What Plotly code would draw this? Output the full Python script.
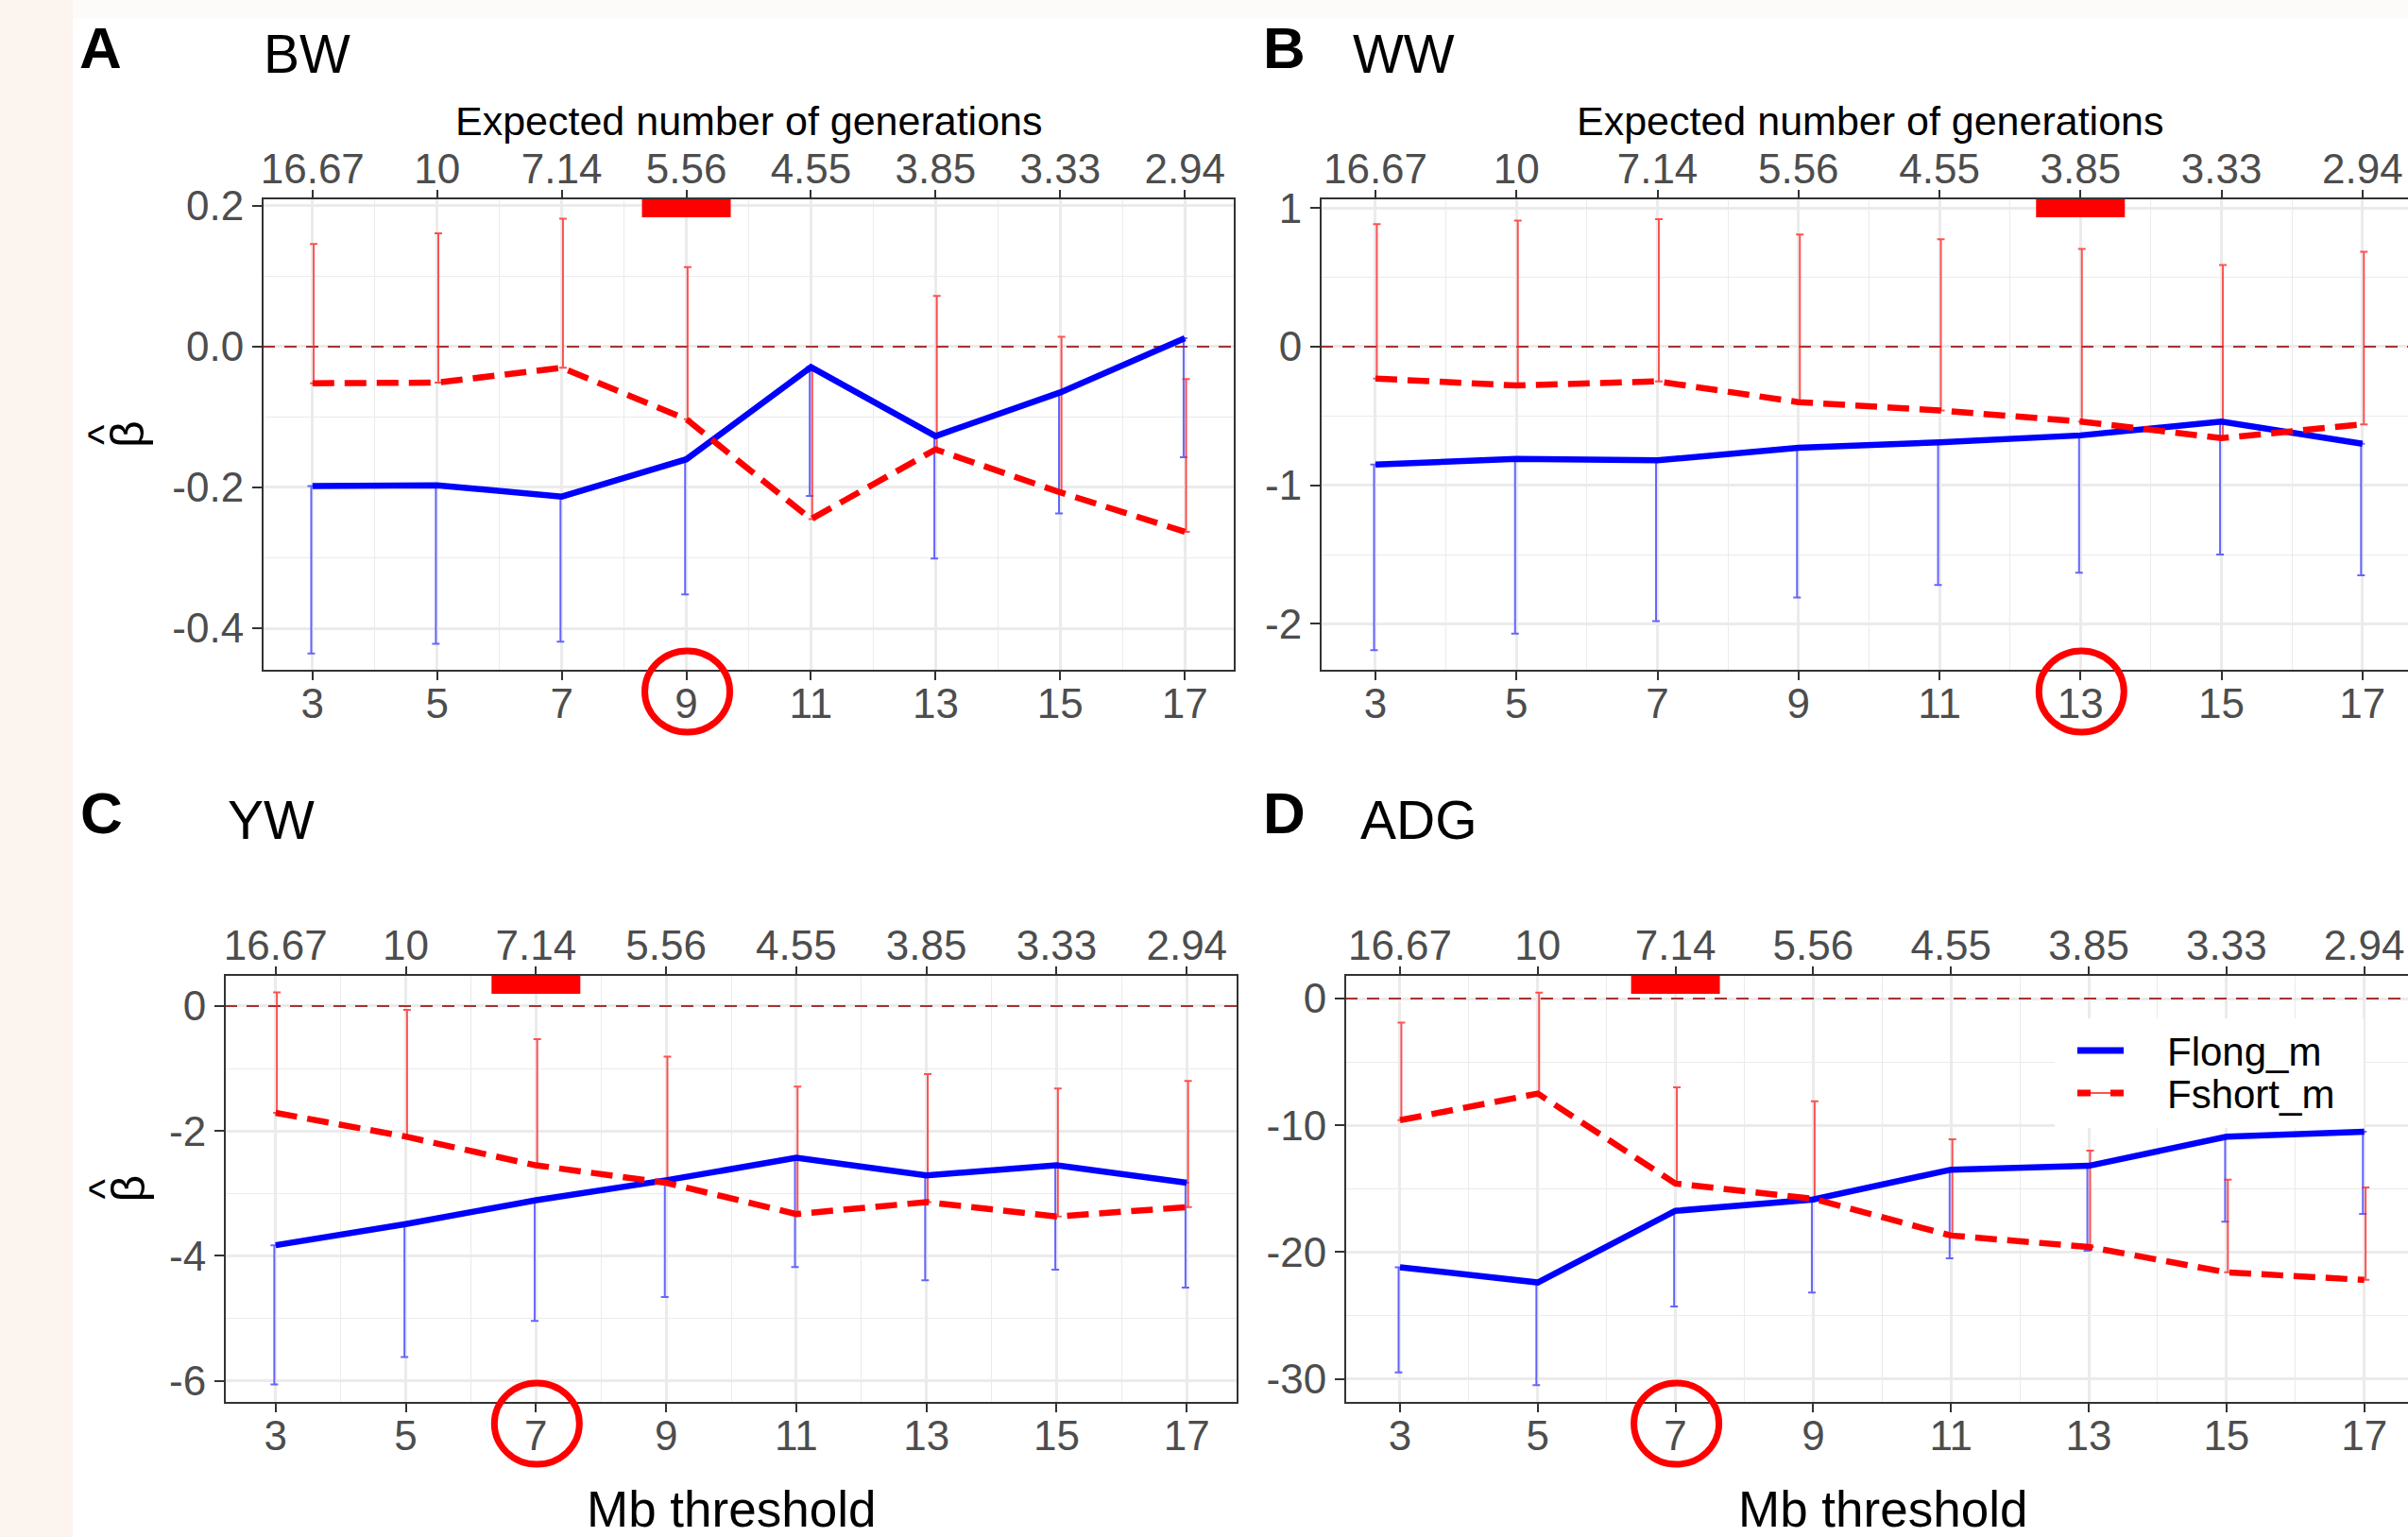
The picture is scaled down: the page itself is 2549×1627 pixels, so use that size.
import plotly.graph_objects as go

W, H = 2549, 1627
FONT = "Liberation Sans, Arial, Helvetica, sans-serif"
TICK = "#4d4d4d"
AXC = "#333333"
GRID = "#ebebeb"
ZERO = "#a83232"
BLUE = "#0000ff"
RED = "#ff0000"

# ---------------- data ----------------
mb_threshold = [3, 5, 7, 9, 11, 13, 15, 17]
mb_minor = [4, 6, 8, 10, 12, 14, 16]
generation_labels = ["16.67", "10", "7.14", "5.56", "4.55", "3.85", "3.33", "2.94"]

# A: BW
bw_flong = [-0.198, -0.197, -0.213, -0.160, -0.029, -0.127, -0.065, 0.012]
bw_flong_low = [-0.436, -0.422, -0.419, -0.352, -0.212, -0.301, -0.237, -0.157]
bw_fshort = [-0.052, -0.051, -0.030, -0.103, -0.245, -0.146, -0.207, -0.263]
bw_fshort_high = [0.146, 0.161, 0.182, 0.113, -0.035, 0.072, 0.014, -0.046]

# B: WW
ww_flong = [-0.85, -0.81, -0.82, -0.73, -0.69, -0.64, -0.54, -0.70]
ww_flong_low = [-2.19, -2.07, -1.98, -1.81, -1.72, -1.63, -1.50, -1.65]
ww_fshort = [-0.23, -0.28, -0.25, -0.40, -0.46, -0.54, -0.66, -0.56]
ww_fshort_high = [0.885, 0.91, 0.92, 0.81, 0.775, 0.705, 0.59, 0.685]

# C: YW
yw_flong = [-3.83, -3.49, -3.11, -2.79, -2.43, -2.71, -2.55, -2.83]
yw_flong_low = [-6.06, -5.62, -5.04, -4.66, -4.18, -4.39, -4.22, -4.51]
yw_fshort = [-1.71, -2.09, -2.55, -2.83, -3.33, -3.14, -3.37, -3.22]
yw_fshort_high = [0.22, -0.06, -0.53, -0.81, -1.29, -1.09, -1.32, -1.20]

# D: ADG
adg_flong = [-21.2, -22.4, -16.75, -15.85, -13.5, -13.2, -10.9, -10.5]
adg_flong_low = [-29.5, -30.5, -24.3, -23.2, -20.5, -19.9, -17.6, -17.0]
adg_fshort = [-9.6, -7.5, -14.6, -15.8, -18.7, -19.6, -21.6, -22.2]
adg_fshort_high = [-1.9, 0.47, -7.0, -8.1, -11.1, -12.0, -14.3, -14.9]

panels = [
    dict(letter="A", title="BW", flong=bw_flong, flong_low=bw_flong_low,
         fshort=bw_fshort, fshort_high=bw_fshort_high, highlight=9,
         yticks=[0.2, 0.0, -0.2, -0.4], yticktext=["0.2", "0.0", "-0.2", "-0.4"],
         yminor=[0.1, -0.1, -0.3],
         xpx=(278, 1307), xr=(2.2, 17.8), ypx=(210, 710), yr=(-0.4604, 0.2107),
         letter_xy=(83, 50), title_xy=(278, 57), top_title=True, bottom_title=False, ylab=True),
    dict(letter="B", title="WW", flong=ww_flong, flong_low=ww_flong_low,
         fshort=ww_fshort, fshort_high=ww_fshort_high, highlight=13,
         yticks=[1, 0, -1, -2], yticktext=["1", "0", "-1", "-2"],
         yminor=[0.5, -0.5, -1.5],
         xpx=(1398, 2562), xr=(2.223, 17.82), ypx=(210, 710), yr=(-2.338, 1.070),
         letter_xy=(1336, 50), title_xy=(1431, 57), top_title=True, bottom_title=False, ylab=False),
    dict(letter="C", title="YW", flong=yw_flong, flong_low=yw_flong_low,
         fshort=yw_fshort, fshort_high=yw_fshort_high, highlight=7,
         yticks=[0, -2, -4, -6], yticktext=["0", "-2", "-4", "-6"],
         yminor=[-1, -3, -5],
         xpx=(238, 1310), xr=(2.22, 17.78), ypx=(1032, 1485), yr=(-6.354, 0.499),
         letter_xy=(84, 861), title_xy=(240, 868), top_title=False, bottom_title=True, ylab=True),
    dict(letter="D", title="ADG", flong=adg_flong, flong_low=adg_flong_low,
         fshort=adg_fshort, fshort_high=adg_fshort_high, highlight=7,
         yticks=[0, -10, -20, -30], yticktext=["0", "-10", "-20", "-30"],
         yminor=[-5, -15, -25],
         xpx=(1424, 2561), xr=(2.205, 17.80), ypx=(1032, 1485), yr=(-31.9, 1.864),
         letter_xy=(1336, 861), title_xy=(1439, 868), top_title=False, bottom_title=True, ylab=False),
]

fig = go.Figure()
shapes = []
annotations = []
layout_axes = {}


def px2data(p, v):
    x0, x1 = p["xpx"]
    r0, r1 = p["xr"]
    return x0 + (v - r0) / (r1 - r0) * (x1 - x0)


# background strips
shapes.append(dict(type="rect", xref="paper", yref="paper", x0=0, x1=77 / W, y0=0, y1=1,
                   fillcolor="#fcf4ef", line_width=0, layer="below"))
shapes.append(dict(type="rect", xref="paper", yref="paper", x0=77 / W, x1=1, y0=1 - 20 / H, y1=1,
                   fillcolor="#fdfbfa", line_width=0, layer="below"))

for i, p in enumerate(panels, start=1):
    xa = "x" if i == 1 else f"x{i}"
    ya = "y" if i == 1 else f"y{i}"
    xt = f"x{i + 4}"
    x0px, x1px = p["xpx"]
    vis1 = min(x1px, W)
    r0, r1 = p["xr"]
    rvis1 = r0 + (vis1 - x0px) / (x1px - x0px) * (r1 - r0)
    xdom = [x0px / W, vis1 / W]
    xrange = [r0, rvis1]
    ydom = [1 - p["ypx"][1] / H, 1 - p["ypx"][0] / H]

    # zero reference line
    fig.add_trace(go.Scatter(x=xrange, y=[0, 0], mode="lines",
                             line=dict(color=ZERO, width=2.2, dash="13px,10px"),
                             xaxis=xa, yaxis=ya, hoverinfo="skip", showlegend=False))
    # error bars (lower for Flong_m, upper for Fshort_m)
    fig.add_trace(go.Scatter(
        x=[v - 0.02 for v in mb_threshold], y=p["flong"], mode="markers",
        marker=dict(size=1, opacity=0),
        error_y=dict(type="data", symmetric=False, array=[0] * len(mb_threshold),
                     arrayminus=[a - b for a, b in zip(p["flong"], p["flong_low"])],
                     color="rgba(40,40,255,0.7)", thickness=2, width=4),
        xaxis=xa, yaxis=ya, hoverinfo="skip", showlegend=False))
    fig.add_trace(go.Scatter(
        x=[v + 0.02 for v in mb_threshold], y=p["fshort"], mode="markers",
        marker=dict(size=1, opacity=0),
        error_y=dict(type="data", symmetric=False,
                     array=[b - a for a, b in zip(p["fshort"], p["fshort_high"])],
                     arrayminus=[0] * len(mb_threshold),
                     color="rgba(255,40,40,0.8)", thickness=2, width=4),
        xaxis=xa, yaxis=ya, hoverinfo="skip", showlegend=False))
    # lines
    fig.add_trace(go.Scatter(x=mb_threshold, y=p["flong"], mode="lines", name="Flong_m",
                             line=dict(color=BLUE, width=6.5), xaxis=xa, yaxis=ya,
                             showlegend=False))
    fig.add_trace(go.Scatter(x=mb_threshold, y=p["fshort"], mode="lines", name="Fshort_m",
                             line=dict(color=RED, width=6.5, dash="23px,11px"),
                             xaxis=xa, yaxis=ya, showlegend=False))
    # dummy trace for top axis
    fig.add_trace(go.Scatter(x=mb_threshold, y=[None] * len(mb_threshold), mode="markers",
                             xaxis=xt, yaxis=ya, hoverinfo="skip", showlegend=False))

    tickfont = dict(family=FONT, size=44, color=TICK)
    layout_axes["xaxis" if i == 1 else f"xaxis{i}"] = dict(
        domain=xdom, range=xrange, anchor=ya, tickmode="array", tickvals=mb_threshold,
        ticktext=[str(v) for v in mb_threshold], ticks="outside", ticklen=9, tickwidth=2,
        tickcolor=AXC, showline=False, showgrid=True, gridcolor=GRID, gridwidth=2.6,
        zeroline=False, tickfont=tickfont, ticklabelstandoff=-13, automargin=False,
        minor=dict(tickvals=mb_minor, showgrid=True, gridcolor=GRID, gridwidth=1.4, ticks=""))
    layout_axes["yaxis" if i == 1 else f"yaxis{i}"] = dict(
        domain=ydom, range=list(p["yr"]), anchor=xa, tickmode="array", tickvals=p["yticks"],
        ticktext=p["yticktext"], ticks="outside", ticklen=10, tickwidth=2, tickcolor=AXC,
        showline=False, showgrid=True, gridcolor=GRID, gridwidth=2.6, zeroline=False,
        tickfont=tickfont, automargin=False,
        minor=dict(tickvals=p["yminor"], showgrid=True, gridcolor=GRID, gridwidth=1.4, ticks=""))
    layout_axes[f"xaxis{i + 4}"] = dict(
        overlaying=xa, side="top", anchor=ya, range=xrange, tickmode="array",
        tickvals=mb_threshold, ticktext=generation_labels, ticks="outside", ticklen=8,
        tickwidth=2, tickcolor=AXC, showgrid=False, zeroline=False, showline=False,
        tickfont=tickfont, ticklabelstandoff=-11, automargin=False)

    top, bot = p["ypx"]
    # panel border
    shapes.append(dict(type="rect", xref="paper", yref="paper", x0=x0px / W, x1=x1px / W,
                       y0=1 - bot / H, y1=1 - top / H, line=dict(color=AXC, width=2),
                       fillcolor="rgba(0,0,0,0)", layer="above"))
    # highlight markers
    cx = px2data(p, p["highlight"])
    shapes.append(dict(type="rect", xref="paper", yref="paper", x0=(cx - 47) / W,
                       x1=(cx + 47) / W, y0=1 - (top + 20) / H, y1=1 - (top + 1) / H,
                       fillcolor=RED, line_width=0, layer="above"))
    shapes.append(dict(type="circle", xref="paper", yref="paper", x0=(cx + 1 - 45) / W,
                       x1=(cx + 1 + 45) / W, y0=1 - (bot + 22 + 43) / H,
                       y1=1 - (bot + 22 - 43) / H, line=dict(color=RED, width=7),
                       fillcolor="rgba(0,0,0,0)", layer="above"))

    # texts
    lx, ly = p["letter_xy"]
    annotations.append(dict(text="<b>" + p["letter"] + "</b>", xref="paper", yref="paper",
                            x=lx / W, y=1 - ly / H, xanchor="left", yanchor="middle",
                            showarrow=False, borderpad=0,
                            font=dict(family=FONT, size=62, color="black")))
    tx, ty = p["title_xy"]
    annotations.append(dict(text=p["title"], xref="paper", yref="paper", x=tx / W,
                            y=1 - ty / H, xanchor="left", yanchor="middle", showarrow=False,
                            borderpad=0, font=dict(family=FONT, size=57, color="black")))
    cxm = (x0px + x1px) / 2
    if p["top_title"]:
        annotations.append(dict(text="Expected number of generations", xref="paper",
                                yref="paper", x=cxm / W, y=1 - 128 / H, xanchor="center",
                                yanchor="middle", showarrow=False, borderpad=0,
                                font=dict(family=FONT, size=43, color="black")))
    if p["bottom_title"]:
        annotations.append(dict(text="Mb threshold", xref="paper", yref="paper",
                                x=cxm / W, y=1 - 1597 / H, xanchor="center",
                                yanchor="middle", showarrow=False, borderpad=0,
                                font=dict(family=FONT, size=53, color="black")))
    if p["ylab"]:
        yc = (top + bot) / 2
        annotations.append(dict(text="β", xref="paper", yref="paper", x=135 / W,
                                y=1 - yc / H, xanchor="center", yanchor="middle",
                                textangle=-90, showarrow=False, borderpad=0,
                                font=dict(family=FONT, size=50, color="black")))
        annotations.append(dict(text="^", xref="paper", yref="paper", x=109 / W,
                                y=1 - yc / H, xanchor="center", yanchor="middle",
                                textangle=-90, showarrow=False, borderpad=0,
                                font=dict(family=FONT, size=46, color="black")))

# manual legend in panel D
shapes.append(dict(type="rect", xref="paper", yref="paper", x0=2175 / W, x1=2502 / W,
                   y0=1 - 1194 / H, y1=1 - 1078 / H, fillcolor="white", line_width=0,
                   layer="above"))
shapes.append(dict(type="line", xref="paper", yref="paper", x0=2199 / W, x1=2248 / W,
                   y0=1 - 1112 / H, y1=1 - 1112 / H, line=dict(color=BLUE, width=7),
                   layer="above"))
shapes.append(dict(type="line", xref="paper", yref="paper", x0=2199 / W, x1=2248 / W,
                   y0=1 - 1157 / H, y1=1 - 1157 / H, line=dict(color="rgba(255,40,40,0.8)", width=2),
                   layer="above"))
shapes.append(dict(type="line", xref="paper", yref="paper", x0=2199 / W, x1=2248 / W,
                   y0=1 - 1157 / H, y1=1 - 1157 / H, line=dict(color=RED, width=7, dash="14px,21px"),
                   layer="above"))
for label, yy in [("Flong_m", 1113), ("Fshort_m", 1158)]:
    annotations.append(dict(text=label, xref="paper", yref="paper", x=2293 / W, y=1 - yy / H,
                            xanchor="left", yanchor="middle", showarrow=False, borderpad=0,
                            font=dict(family=FONT, size=42, color="black")))

fig.update_layout(
    width=W, height=H, autosize=False,
    margin=dict(l=0, r=0, t=0, b=0, pad=0, autoexpand=False),
    paper_bgcolor="white", plot_bgcolor="white",
    font=dict(family=FONT, color="black"),
    shapes=shapes, annotations=annotations, showlegend=False,
    **layout_axes,
)

fig.write_html("out.html", config={"displayModeBar": False},
               post_script="document.body.style.margin='0';document.body.style.overflow='hidden';")
